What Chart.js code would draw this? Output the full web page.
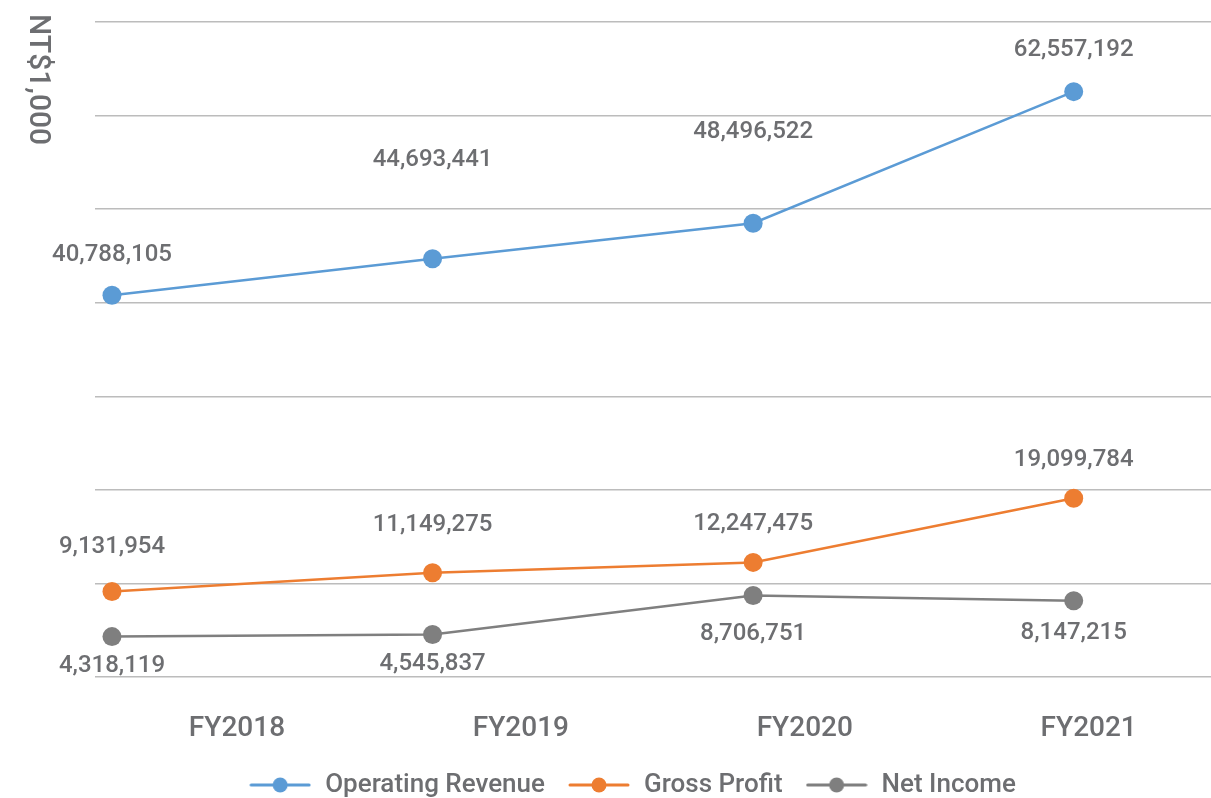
<!DOCTYPE html>
<html>
<head>
<meta charset="utf-8">
<title>Operating Revenue / Gross Profit / Net Income</title>
<script src="https://cdn.jsdelivr.net/npm/chart.js@4.4.1/dist/chart.umd.min.js"></script>
<style>
  html, body { margin: 0; padding: 0; background: #fff; overflow: hidden; }
  #wrap { width: 1264px; height: 808px; }
</style>
</head>
<body>
<div id="wrap"><canvas id="chart" width="1264" height="808"></canvas></div>
<script>
// values in NT$1,000
const categories = ["FY2018", "FY2019", "FY2020", "FY2021"];
const operatingRevenue = [40788105, 44693441, 48496522, 62557192];
const grossProfit = [9131954, 11149275, 12247475, 19099784];
const netIncome = [4318119, 4545837, 8706751, 8147215];
const yAxisTitle = "NT$1,000";

const textColor = "#6d6e71";
const blue = "#5b9bd5";
const orange = "#ed7d31";
const gray = "#7f7f7f";

function toPoints(values) {
  return values.map((v, i) => ({ x: i, y: v }));
}

// little line + dot icon for the legend
function legendIcon(color) {
  const c = document.createElement("canvas");
  c.width = 62;
  c.height = 18;
  const g = c.getContext("2d");
  g.strokeStyle = color;
  g.lineWidth = 3;
  g.lineCap = "round";
  g.beginPath();
  g.moveTo(2, 9);
  g.lineTo(60, 9);
  g.stroke();
  g.fillStyle = color;
  g.beginPath();
  g.arc(31, 9, 7.5, 0, Math.PI * 2);
  g.fill();
  return c;
}

const valueLabels = {
  id: "valueLabels",
  afterDatasetsDraw(chart) {
    const ctx = chart.ctx;
    ctx.save();
    ctx.font = "500 24px Roboto";
    ctx.fillStyle = textColor;
    ctx.textAlign = "center";
    ctx.textBaseline = "middle";
    chart.data.datasets.forEach((ds, di) => {
      const meta = chart.getDatasetMeta(di);
      meta.data.forEach((pt, i) => {
        const v = ds.data[i].y;
        ctx.fillText(v.toLocaleString("en-US"), pt.x, pt.y + ds.labelOffset[i]);
      });
    });
    ctx.restore();
  }
};

const unitTitle = {
  id: "unitTitle",
  afterDraw(chart) {
    const ctx = chart.ctx;
    ctx.save();
    ctx.translate(37, 14);
    ctx.rotate(Math.PI / 2);
    ctx.font = "500 30px Roboto";
    ctx.fillStyle = textColor;
    ctx.textAlign = "left";
    ctx.textBaseline = "middle";
    ctx.fillText(yAxisTitle, 0, 0);
    ctx.restore();
  }
};

const icons = [legendIcon(blue), legendIcon(orange), legendIcon(gray)];

new Chart(document.getElementById("chart"), {
  type: "line",
  data: {
    datasets: [
      {
        label: "Operating Revenue",
        data: toPoints(operatingRevenue),
        borderColor: blue,
        backgroundColor: blue,
        labelOffset: [-40, -99, -91, -42]
      },
      {
        label: "Gross Profit",
        data: toPoints(grossProfit),
        borderColor: orange,
        backgroundColor: orange,
        labelOffset: [-45, -48, -38, -38]
      },
      {
        label: "Net Income",
        data: toPoints(netIncome),
        borderColor: gray,
        backgroundColor: gray,
        labelOffset: [29, 30, 38, 32]
      }
    ]
  },
  options: {
    responsive: false,
    animation: false,
    layout: { padding: { top: 22, left: 0, right: 0, bottom: 0 } },
    elements: {
      line: { borderWidth: 2.5, tension: 0 },
      point: { radius: 9.5, hoverRadius: 9.5, borderWidth: 0 }
    },
    scales: {
      x: {
        type: "linear",
        display: false,
        min: -0.053,
        max: 3.564
      },
      xCat: {
        type: "linear",
        position: "bottom",
        min: -0.5,
        max: 3.584,
        afterBuildTicks(scale) {
          scale.ticks = categories.map((c, i) => ({ value: i }));
        },
        afterFit(scale) {
          scale.height = 73;
        },
        ticks: {
          callback: (v) => categories[v],
          font: { family: "Roboto", size: 28, weight: "500" },
          color: textColor,
          padding: 35,
          maxRotation: 0,
          autoSkip: false
        },
        grid: { display: false, drawTicks: false },
        border: { display: false }
      },
      y: {
        min: 0,
        max: 70000000,
        ticks: { stepSize: 10000000, display: false },
        grid: { color: "#bcbcbc", lineWidth: 1.5, drawTicks: false },
        border: { display: false },
        afterFit(scale) {
          scale.width = 95;
        }
      }
    },
    plugins: {
      legend: {
        position: "bottom",
        labels: {
          usePointStyle: true,
          pointStyleWidth: 64,
          padding: 22,
          color: textColor,
          font: { family: "Roboto", size: 26, weight: "500" },
          generateLabels(chart) {
            const items = Chart.defaults.plugins.legend.labels.generateLabels(chart);
            items.forEach((item) => {
              item.pointStyle = icons[item.datasetIndex];
            });
            return items;
          }
        }
      },
      tooltip: { enabled: false }
    }
  },
  plugins: [valueLabels, unitTitle]
});
</script>
</body>
</html>
